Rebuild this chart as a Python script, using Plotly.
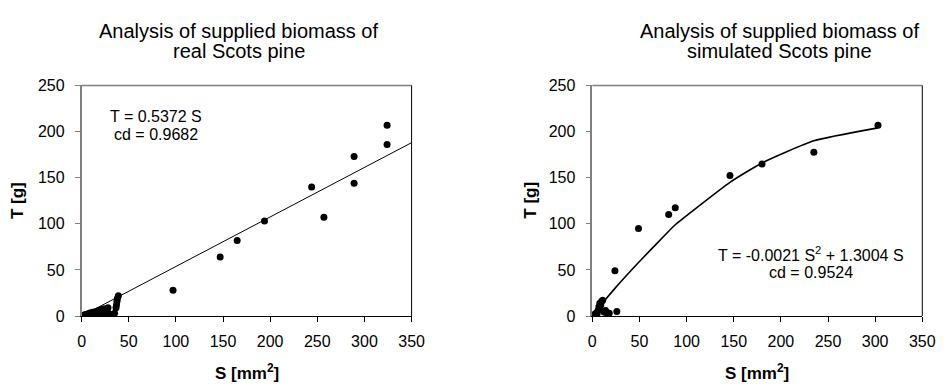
import plotly.graph_objects as go

# ---- data: real Scots pine ----
real_S = [0.5, 1, 1.5, 2, 2.5, 3, 3.5, 4, 5, 6, 7, 8, 9, 10, 11, 12, 13, 14, 15, 16,
          17, 18, 19, 20, 21, 22, 23, 24, 25, 26, 27, 28, 30, 33, 35, 36.5, 37, 37.5, 38, 39,
          97, 147, 165, 194, 244, 257, 289, 289, 324, 324]
real_T = [0.2, 0.5, 0.3, 0.8, 0.6, 1.0, 0.4, 1.5, 1.2, 2.0, 1.0, 3.0, 2.0, 3.5, 1.5, 4.0, 2.5, 4.5, 3.0, 5.0,
          3.5, 6.0, 4.0, 6.5, 2.5, 7.0, 5.0, 8.0, 3.0, 0.5, 6.0, 9.0, 2.0, 1.0, 3.0, 9.0, 12.0, 16.0, 19.0, 22.0,
          28, 64, 82, 103, 140, 107, 144, 173, 186, 207]
real_fit_S = [0, 350]
real_fit_T = [0, 188]

# ---- data: simulated Scots pine ----
sim_S = [0.5, 1, 1.5, 2, 2.5, 3, 4, 5, 6, 7, 8, 9, 10, 11, 12, 13, 14, 15, 16, 18,
         24, 26, 49, 81, 88, 146, 180, 235, 303]
sim_T = [0.2, 0.5, 1.0, 0.5, 2.0, 1.5, 3.0, 2.0, 6.0, 10.0, 14.0, 12.0, 16.0, 17.0, 5.0, 4.0, 6.0, 4.0, 3.0, 3.0,
         49, 5, 95, 110, 117.5, 152.5, 165, 177.5, 207]
sim_fit_S = [0, 10, 24, 49, 81, 88, 146, 180, 235, 303]
sim_fit_T = [0, 13, 30, 58, 92, 99, 145, 166, 190, 204]

x_ticks = [0, 50, 100, 150, 200, 250, 300, 350]
y_ticks = [0, 50, 100, 150, 200, 250]

W, H = 952, 392
FONT = "Liberation Sans, Arial, Helvetica, sans-serif"

def px(xp):
    return xp / W

def py(yp):
    return 1 - yp / H

left_dom = [px(79), px(415)]
right_dom = [px(599), px(935)]
y_dom = [py(322), py(81)]

fig = go.Figure()

fig.add_trace(go.Scatter(x=real_fit_S, y=real_fit_T, mode="lines",
                         line=dict(color="black", width=1), xaxis="x", yaxis="y",
                         showlegend=False, hoverinfo="skip"))
fig.add_trace(go.Scatter(x=real_S, y=real_T, mode="markers",
                         marker=dict(color="black", size=7), xaxis="x", yaxis="y",
                         showlegend=False))
fig.add_trace(go.Scatter(x=sim_fit_S, y=sim_fit_T, mode="lines",
                         line=dict(color="black", width=1.6, shape="spline", smoothing=0.5),
                         xaxis="x2", yaxis="y2", showlegend=False, hoverinfo="skip"))
fig.add_trace(go.Scatter(x=sim_S, y=sim_T, mode="markers",
                         marker=dict(color="black", size=7), xaxis="x2", yaxis="y2",
                         showlegend=False))

xcommon = dict(range=[0, 350], tickvals=x_ticks, ticks="outside", ticklen=5,
               tickcolor="black", linecolor="black", linewidth=1, showgrid=False,
               zeroline=False, showline=True, ticklabelstandoff=6,
               tickfont=dict(family=FONT, size=16, color="black"))
ycommon = dict(range=[0, 250], tickvals=y_ticks, ticks="outside", ticklen=5,
               tickcolor="#808080", linecolor="#808080", linewidth=1.5, showgrid=False,
               zeroline=False, showline=True, ticklabelstandoff=7,
               tickfont=dict(family=FONT, size=16, color="black"))

fig.update_layout(
    width=W, height=H, margin=dict(l=0, r=0, t=0, b=0),
    paper_bgcolor="white", plot_bgcolor="white",
    xaxis=dict(domain=left_dom, anchor="y", **xcommon),
    yaxis=dict(domain=y_dom, anchor="x", **ycommon),
    xaxis2=dict(domain=right_dom, anchor="y2", **xcommon),
    yaxis2=dict(domain=y_dom, anchor="x2", **ycommon),
)

shapes = []
for xr in ["x", "x2"]:
    yr = "y" if xr == "x" else "y2"
    shapes.append(dict(type="line", xref=f"{xr} domain", yref=f"{yr} domain",
                       x0=0, x1=1, y0=1, y1=1, line=dict(color="#808080", width=1.5)))
    shapes.append(dict(type="line", xref=f"{xr} domain", yref=f"{yr} domain",
                       x0=1, x1=1, y0=0, y1=1, line=dict(color="black", width=1)))
fig.update_layout(shapes=shapes)

ann = []
def text(x, y, s, size=16, bold=False, angle=0):
    ann.append(dict(xref="paper", yref="paper", x=px(x), y=py(y), text=f"<b>{s}</b>" if bold else s,
                    showarrow=False, xanchor="center", yanchor="middle", textangle=angle,
                    font=dict(family=FONT, size=size, color="black")))

# titles
text(239, 24, "Analysis of supplied biomass of", size=20)
text(239, 45, "real Scots pine", size=20)
text(790, 24, "Analysis of supplied biomass of", size=20)
text(790, 45, "simulated Scots pine", size=20)
# axis titles
text(247, 380, "S [mm<sup>2</sup>]", size=17, bold=True)
text(767, 380, "S [mm<sup>2</sup>]", size=17, bold=True)
text(14, 201, "T [g]", size=17, bold=True, angle=-90)
text(536, 201, "T [g]", size=17, bold=True, angle=-90)
# equations
text(155, 113, "T = 0.5372 S", size=16)
text(155, 132, "cd = 0.9682", size=16)
text(822, 257, "T = -0.0021 S<sup>2</sup> + 1.3004 S", size=16)
text(822, 277, "cd = 0.9524", size=16)
fig.update_layout(annotations=ann)

fig.write_html("out.html")
